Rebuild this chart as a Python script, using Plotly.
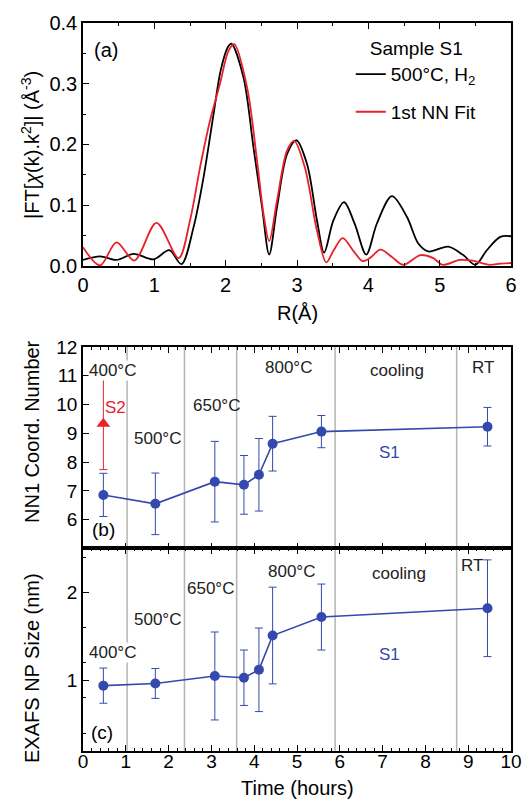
import plotly.graph_objects as go

# ---------------- data ----------------
# Panel (a): |FT| vs R
r_exp = [0.0, 0.24, 0.47, 0.71, 0.99, 1.21, 1.38, 1.55, 1.69, 1.83, 1.93, 2.03, 2.08, 2.25, 2.39, 2.51, 2.61,
         2.72, 2.86, 2.99, 3.14, 3.28, 3.38, 3.51, 3.66, 3.81, 3.97, 4.12, 4.33, 4.54, 4.70, 4.84, 5.12,
         5.33, 5.50, 5.66, 5.85, 6.0]
ft_exp = [0.010, 0.016, 0.010, 0.020, 0.011, 0.026, 0.003, 0.064, 0.146, 0.250, 0.322, 0.360, 0.366, 0.310,
          0.195, 0.097, 0.019, 0.097, 0.184, 0.207, 0.168, 0.075, 0.022, 0.075, 0.105, 0.069, 0.019, 0.070,
          0.115, 0.081, 0.037, 0.024, 0.032, 0.018, 0.002, 0.026, 0.048, 0.049]
r_fit = [0.0, 0.24, 0.47, 0.72, 1.03, 1.34, 1.50, 1.64, 1.78, 1.92, 2.04, 2.12, 2.30, 2.44, 2.53, 2.61, 2.72,
         2.86, 2.96, 3.11, 3.28, 3.41, 3.51, 3.64, 3.79, 3.92, 4.02, 4.17, 4.33, 4.49, 4.73, 4.91, 5.04,
         5.28, 5.46, 5.70, 5.85, 6.0]
ft_fit = [0.031, 0.001, 0.039, 0.009, 0.071, 0.013, 0.075, 0.162, 0.239, 0.300, 0.354, 0.365, 0.294, 0.173,
          0.086, 0.041, 0.108, 0.190, 0.206, 0.162, 0.058, 0.006, 0.025, 0.046, 0.025, 0.008, 0.013, 0.027,
          0.015, 0.002, 0.018, 0.013, 0.002, 0.010, 0.009, 0.002, 0.004, 0.005]

# Panels (b) and (c): vs time
time_h = [0.476, 1.69, 3.08, 3.76, 4.11, 4.43, 5.57, 9.45]
cn_s1 = [6.86, 6.55, 7.32, 7.21, 7.56, 8.64, 9.06, 9.23]
cn_s1_err = [0.75, 1.07, 1.40, 1.02, 1.26, 0.95, 0.56, 0.67]
time_s2 = [0.476]
cn_s2 = [9.33]
cn_s2_err = [1.59]
size_s1 = [0.94, 0.965, 1.05, 1.03, 1.12, 1.51, 1.72, 1.82]
size_s1_err = [0.20, 0.17, 0.50, 0.315, 0.475, 0.55, 0.375, 0.55]

# stage boundaries (hours)
stage_bounds = [1.03, 2.37, 3.59, 5.89, 8.73]

# stage labels
stage_labels = ["400°C", "500°C", "650°C", "800°C", "cooling", "RT"]
stage_t_b = [0.70, 1.73, 3.11, 4.80, 7.33, 9.34]
stage_y_b = [11.2, 8.81, 9.95, 11.27, 11.2, 11.3]
stage_t_c = [0.68, 1.73, 2.97, 4.87, 7.38, 9.08]
stage_y_c = [1.32, 1.69, 2.05, 2.24, 2.21, 2.31]

# ---------------- styling ----------------
FONT = "Liberation Sans, Arial, Helvetica, sans-serif"
BLUE = "#3449ad"
RED = "#e8212b"
GREY = "#b4b4b4"

fig = go.Figure()

fig.add_trace(go.Scatter(x=r_exp, y=ft_exp, mode="lines", name="500°C, H<sub>2</sub>", legendgroup="g1",
                         line=dict(color="black", width=1.8, shape="spline", smoothing=0.9),
                         xaxis="x", yaxis="y"))
fig.add_trace(go.Scatter(x=r_fit, y=ft_fit, mode="lines", name="1st NN Fit", legendgroup="g2",
                         line=dict(color=RED, width=1.8, shape="spline", smoothing=0.9),
                         xaxis="x", yaxis="y"))

fig.add_trace(go.Scatter(x=time_h, y=cn_s1, mode="lines+markers", showlegend=False,
                         line=dict(color=BLUE, width=1.6), marker=dict(color=BLUE, size=10),
                         error_y=dict(type="data", array=cn_s1_err, color=BLUE, thickness=1, width=4),
                         xaxis="x2", yaxis="y2"))
fig.add_trace(go.Scatter(x=time_s2, y=cn_s2, mode="markers", showlegend=False,
                         marker=dict(color=RED, size=12, symbol="triangle-up"),
                         error_y=dict(type="data", array=cn_s2_err, color=RED, thickness=1, width=4),
                         xaxis="x2", yaxis="y2"))
fig.add_trace(go.Scatter(x=time_h, y=size_s1, mode="lines+markers", showlegend=False,
                         line=dict(color=BLUE, width=1.6), marker=dict(color=BLUE, size=10),
                         error_y=dict(type="data", array=size_s1_err, color=BLUE, thickness=1, width=4),
                         xaxis="x3", yaxis="y3"))

XD = [0.159, 0.979]
YD_A = [0.6687, 0.9714]
YD_B = [0.3170, 0.5679]
YD_C = [0.0651, 0.3170]

def ax(size=19, **kw):
    base = dict(showline=True, linecolor="black", linewidth=1.5, ticks="inside", ticklen=6,
                tickwidth=1.2, tickcolor="black", showgrid=False, zeroline=False, automargin=False,
                tickfont=dict(family=FONT, size=size, color="black"))
    base.update(kw)
    return base

def ann(**kw):
    base = dict(showarrow=False, xanchor="center", yanchor="middle")
    base.update(kw)
    return base

annotations = []
shapes = []

annotations.append(ann(x=0.32, y=0.356, xref="x", yref="y", text="(a)",
                       font=dict(family=FONT, size=20, color="black")))

for t in stage_bounds:
    shapes.append(dict(type="line", xref="x2", yref="paper", x0=t, x1=t, y0=YD_C[0], y1=YD_B[1],
                       line=dict(color=GREY, width=1.5), layer="below"))

for txt, tb, yb, tc, yc in zip(stage_labels, stage_t_b, stage_y_b, stage_t_c, stage_y_c):
    bg = "white" if txt == "400°C" else "rgba(0,0,0,0)"
    annotations.append(ann(x=tb, y=yb, xref="x2", yref="y2", text=txt, bgcolor=bg, borderpad=0,
                           font=dict(family=FONT, size=17, color="#222222")))
    annotations.append(ann(x=tc, y=yc, xref="x3", yref="y3", text=txt, bgcolor=bg, borderpad=0,
                           font=dict(family=FONT, size=17, color="#222222")))

annotations += [
    ann(x=0.77, y=9.88, xref="x2", yref="y2", text="S2", font=dict(family=FONT, size=17, color=RED)),
    ann(x=7.17, y=8.32, xref="x2", yref="y2", text="S1", font=dict(family=FONT, size=17, color=BLUE)),
    ann(x=0.47, y=5.65, xref="x2", yref="y2", text="(b)", font=dict(family=FONT, size=19, color="black")),
    ann(x=7.17, y=1.29, xref="x3", yref="y3", text="S1", font=dict(family=FONT, size=17, color=BLUE)),
    ann(x=0.44, y=0.41, xref="x3", yref="y3", text="(c)", font=dict(family=FONT, size=19, color="black")),
    ann(x=30 / 522, y=1 - 145 / 803, xref="paper", yref="paper", textangle=-90,
        text="|FT[<i>χ</i>(k).k<sup>2</sup>]| (Å<sup>-3</sup>)",
        font=dict(family=FONT, size=20, color="black")),
    ann(x=32 / 522, y=1 - 432 / 803, xref="paper", yref="paper", textangle=-90,
        text="NN1 Coord. Number", font=dict(family=FONT, size=20, color="black")),
    ann(x=32 / 522, y=1 - 668 / 803, xref="paper", yref="paper", textangle=-90,
        text="EXAFS NP Size (nm)", font=dict(family=FONT, size=20, color="black")),
    ann(x=297 / 522, y=1 - 313 / 803, xref="paper", yref="paper",
        text="R(Å)", font=dict(family=FONT, size=20, color="black")),
    ann(x=297 / 522, y=1 - 788 / 803, xref="paper", yref="paper",
        text="Time (hours)", font=dict(family=FONT, size=20, color="black")),
]

fig.update_layout(
    width=522, height=803,
    margin=dict(l=0, r=0, t=0, b=0, pad=0, autoexpand=False),
    paper_bgcolor="white", plot_bgcolor="white",
    font=dict(family=FONT, color="black"),
    xaxis=ax(size=20, domain=XD, anchor="y", range=[0, 6], tickvals=[0, 1, 2, 3, 4, 5, 6], mirror="ticks",
             minor=dict(dtick=0.5, ticks="inside", ticklen=3, tickcolor="black")),
    yaxis=ax(size=20, domain=YD_A, anchor="x", range=[0, 0.4], tickvals=[0, 0.1, 0.2, 0.3, 0.4],
             tickformat=".1f", mirror=True,
             minor=dict(dtick=0.05, ticks="inside", ticklen=3, tickcolor="black")),
    xaxis2=ax(domain=XD, anchor="y2", range=[0, 10], dtick=1, showticklabels=False, mirror="ticks",
              minor=dict(dtick=0.2, ticks="inside", ticklen=3, tickcolor="black")),
    yaxis2=ax(domain=YD_B, anchor="x2", range=[5, 12], tickvals=[6, 7, 8, 9, 10, 11, 12], mirror=True),
    xaxis3=ax(domain=XD, anchor="y3", range=[0, 10], dtick=1, mirror="ticks", matches="x2",
              ticklabelstandoff=-7,
              minor=dict(dtick=0.2, ticks="inside", ticklen=3, tickcolor="black")),
    yaxis3=ax(domain=YD_C, anchor="x3", range=[0.2, 2.5], tickvals=[1, 2], mirror=True,
              minor=dict(dtick=0.4, tick0=0, ticks="inside", ticklen=3, tickcolor="black")),
    legend=dict(x=0.672, y=0.962, xanchor="left", yanchor="top", bgcolor="rgba(0,0,0,0)",
                title=dict(text="Sample S1", side="top center", font=dict(family=FONT, size=19)),
                font=dict(family=FONT, size=19, color="black"), tracegroupgap=10),
    annotations=annotations,
    shapes=shapes,
)

fig.write_html("out.html", config={"displayModeBar": False},
               post_script="document.body.style.margin='0';document.body.style.padding='0';")
